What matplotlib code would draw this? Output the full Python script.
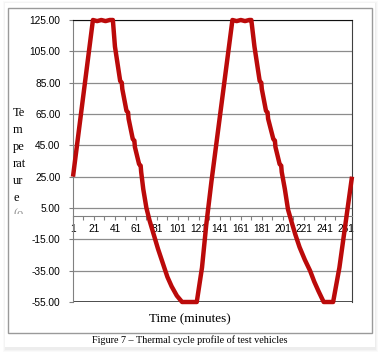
import matplotlib
matplotlib.use("Agg")
import matplotlib.pyplot as plt
from matplotlib.patches import Rectangle
from matplotlib.ticker import FixedLocator, FuncFormatter

# --- Data (minute index, temperature) ---
minutes = [1, 20, 24, 28, 32, 36, 39,
           41, 46, 47.5, 48, 52, 53.5, 54, 58, 59.5, 60, 64, 65.5, 66, 68,
           71, 74, 78, 82, 87, 91, 95, 100, 105,
           119, 124, 128, 133, 153,
           157, 161, 165, 169, 171,
           174, 179, 180.5, 181, 185, 186.5, 187, 192, 193.5, 194, 198, 199.5, 200, 203,
           206, 209, 213, 217, 222, 227, 231, 235, 240,
           249, 255, 261, 267]
temps = [25, 125, 124.3, 125, 124.3, 125, 125,
         108, 86, 85, 81, 67, 66, 62, 49, 48, 44, 33, 32, 28, 17,
         5, -3, -12, -21, -31, -39, -45, -51, -55,
         -55, -33, -6, 22, 125,
         124.3, 125, 124.3, 125, 125,
         108, 86, 85, 81, 67, 66, 62, 49, 48, 44, 33, 32, 28, 17,
         4, -3, -12, -20, -28, -35, -42, -48, -55,
         -55, -33, -4, 25]

y_ticks = [-55, -35, -15, 5, 25, 45, 65, 85, 105, 125]
x_labels = list(range(1, 262, 20))

W, H = 380, 353
fig = plt.figure(figsize=(W / 100, H / 100), dpi=100)
fig.patch.set_facecolor("white")

def px(x0, y0, x1, y1):
    return (x0 / W, 1 - y1 / H, (x1 - x0) / W, (y1 - y0) / H)

# card with soft shadow (kept behind the axes)
for i, a in enumerate([0.06, 0.08, 0.10]):
    l, b, w, h = px(3 + i, 1 + i, 378 - i, 352 - i)
    fig.patches.append(Rectangle((l, b), w, h, transform=fig.transFigure,
                                 facecolor="#b0b0b0", edgecolor="none", alpha=a, zorder=-5))
l, b, w, h = px(5, 3, 375, 347)
fig.patches.append(Rectangle((l, b), w, h, transform=fig.transFigure,
                             facecolor="white", edgecolor="none", zorder=-4))
l, b, w, h = px(8, 8, 372, 333)
fig.patches.append(Rectangle((l, b), w, h, transform=fig.transFigure,
                             facecolor="none", edgecolor="#9a9a9a", lw=1.0, zorder=-3))

ax = fig.add_axes(px(73, 20, 352, 302))
ax.set_facecolor("none")
ax.plot(minutes, temps, color="#bb0a0a", lw=3.2, solid_joinstyle="round",
        solid_capstyle="butt", zorder=3, clip_on=False)

ax.set_xlim(1, 267)
ax.set_ylim(-55, 125)

# y axis
ax.set_yticks(y_ticks)
ax.yaxis.set_major_formatter(FuncFormatter(lambda v, p: f"{v:.2f}"))
ax.tick_params(axis="y", direction="out", length=3, width=0.8, color="#808080",
               pad=6, labelsize=7.3)
ax.yaxis.grid(True, color="#8c8c8c", lw=0.9)
ax.set_axisbelow(True)

# x axis crosses at zero
ax.spines["bottom"].set_position(("data", 0))
ax.spines["bottom"].set_color("#808080")
ax.spines["left"].set_color("#808080")
ax.spines["top"].set_color("#101010")
ax.spines["right"].set_color("#404040")
ax.xaxis.set_major_locator(FixedLocator(x_labels))
ax.xaxis.set_minor_locator(FixedLocator(list(range(11, 268, 20))))
ax.xaxis.set_major_formatter(FuncFormatter(lambda v, p: f"{int(v)}"))
ax.tick_params(axis="x", which="both", direction="out", length=3, width=0.8,
               color="#808080", pad=3, labelsize=7.3)
ax.axhline(-55, color="#303030", lw=1.2, zorder=2)
for t in ax.get_xticklabels() + ax.get_yticklabels():
    t.set_fontfamily("Liberation Sans")

# axis titles
fig.text(190 / W, 1 - 319 / H, "Time (minutes)", ha="center", va="center",
         family="Liberation Serif", fontsize=9.5)
ylab_lines = ["Te", "m", "pe", "rat", "ur", "e"]
ylab_y = [113, 130, 147, 164, 181, 198]
for s, yy in zip(ylab_lines, ylab_y):
    fig.text(13 / W, 1 - yy / H, s, ha="left", va="center",
             family="Liberation Serif", fontsize=9)
cut = fig.text(13 / W, 1 - 214 / H, "(o", ha="left", va="center",
               family="Liberation Serif", fontsize=9, color="#909090")
l, b, w, h = px(0, 0, 60, 214)
clip = Rectangle((l, b), w, h, transform=fig.transFigure)
cut.set_clip_path(clip)

fig.text(190 / W, 1 - 340 / H, "Figure 7 \u2013 Thermal cycle profile of test vehicles",
         ha="center", va="center", family="Liberation Serif", fontsize=7.3)

fig.savefig("out.png", dpi=100)
